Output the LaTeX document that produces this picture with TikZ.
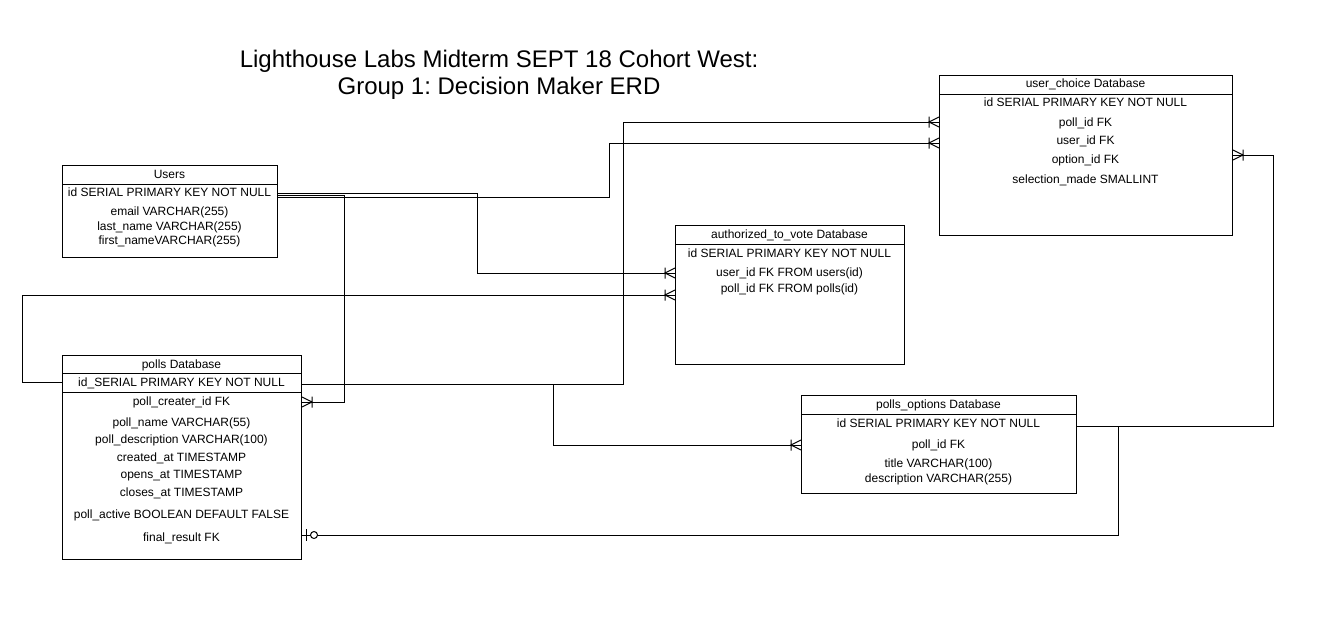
\documentclass[tikz,border=0pt]{standalone}
\usepackage{fontspec}
\setmainfont{Liberation Sans}
\frenchspacing
\usetikzlibrary{calc}
\tikzset{
  crowfoot/.pic={\draw[line width=1pt] (0,-5) -- (10,0) -- (0,5) (10,-5.5) -- (10,5.5);},
  zeroone/.pic={\draw[line width=1pt] (4,-6) -- (4,6); \draw[line width=1pt, fill=white] (12,0) circle (3.5);}
}
\begin{document}
\begin{tikzpicture}[x=1pt,y=-1pt,
  tbl/.style={draw=black, line width=1pt, inner sep=0pt, anchor=north west, fill=white},
  row/.style={inner sep=0pt, font=\fontsize{12}{14}\selectfont, text=black},
  conn/.style={draw=black, line width=1pt},
  sep/.style={draw=black, line width=1pt}]
\useasboundingbox[fill=white] (0,0) rectangle (1341,626);

% title
\node[font=\fontsize{24}{27}\selectfont\frenchspacing, align=center, inner sep=0pt] (title) at (499,75)
  {Lighthouse Labs Midterm SEPT 18 Cohort West:\\Group 1: Decision Maker ERD};

% tables
\node[tbl, minimum width=215pt, minimum height=92pt] (users) at (62,165) {};
\node[tbl, minimum width=239pt, minimum height=204pt] (polls) at (62,355) {};
\node[tbl, minimum width=229pt, minimum height=139pt] (atv) at (675,225) {};
\node[tbl, minimum width=293pt, minimum height=160pt] (uc) at (939,75) {};
\node[tbl, minimum width=275pt, minimum height=98pt] (po) at (801,395) {};

% separators
\draw[sep] ($(users.north west)+(0,19)$) -- ($(users.north east)+(0,19)$);
\draw[sep] ($(polls.north west)+(0,18)$) -- ($(polls.north east)+(0,18)$);
\draw[sep] ($(polls.north west)+(0,37)$) -- ($(polls.north east)+(0,37)$);
\draw[sep] ($(atv.north west)+(0,19)$) -- ($(atv.north east)+(0,19)$);
\draw[sep] ($(uc.north west)+(0,19)$) -- ($(uc.north east)+(0,19)$);
\draw[sep] ($(po.north west)+(0,19)$) -- ($(po.north east)+(0,19)$);

% Users rows
\node[row] (users-t) at (169.5,174) {Users};
\node[row] (users-id) at (169.5,192) {id SERIAL PRIMARY KEY NOT NULL};
\node[row] (users-em) at (169.5,212) {email VARCHAR(255)};
\node[row] (users-ln) at (169.5,227) {last\_name VARCHAR(255)};
\node[row] (users-fn) at (169.5,241) {first\_nameVARCHAR(255)};

% polls rows
\node[row] (polls-t) at (181.5,365) {polls Database};
\node[row] (polls-id) at (181.5,383) {id\_SERIAL PRIMARY KEY NOT NULL};
\node[row] (polls-pc) at (181.5,402) {poll\_creater\_id FK};
\node[row] (polls-pn) at (181.5,423) {poll\_name VARCHAR(55)};
\node[row] (polls-pd) at (181.5,440) {poll\_description VARCHAR(100)};
\node[row] (polls-ca) at (181.5,458) {created\_at TIMESTAMP};
\node[row] (polls-oa) at (181.5,476) {opens\_at TIMESTAMP};
\node[row] (polls-cl) at (181.5,493) {closes\_at TIMESTAMP};
\node[row] (polls-pa) at (181.5,515) {poll\_active BOOLEAN DEFAULT FALSE};
\node[row] (polls-fr) at (181.5,538) {final\_result FK};

% authorized_to_vote rows
\node[row] (atv-t) at (789.5,235) {authorized\_to\_vote Database};
\node[row] (atv-id) at (789.5,253) {id SERIAL PRIMARY KEY NOT NULL};
\node[row] (atv-u) at (789.5,273) {user\_id FK FROM users(id)};
\node[row] (atv-p) at (789.5,289) {poll\_id FK FROM polls(id)};

% user_choice rows
\node[row] (uc-t) at (1085.5,84) {user\_choice Database};
\node[row] (uc-id) at (1085.5,102) {id SERIAL PRIMARY KEY NOT NULL};
\node[row] (uc-p) at (1085.5,123) {poll\_id FK};
\node[row] (uc-u) at (1085.5,141) {user\_id FK};
\node[row] (uc-o) at (1085.5,160) {option\_id FK};
\node[row] (uc-s) at (1085.5,180) {selection\_made SMALLINT};

% polls_options rows
\node[row] (po-t) at (938.5,405) {polls\_options Database};
\node[row] (po-id) at (938.5,423) {id SERIAL PRIMARY KEY NOT NULL};
\node[row] (po-p) at (938.5,445) {poll\_id FK};
\node[row] (po-ti) at (938.5,464) {title VARCHAR(100)};
\node[row] (po-de) at (938.5,479) {description VARCHAR(255)};

% connection points
\coordinate (u1) at ($(users.north east)+(0,28)$);
\coordinate (u2) at ($(users.north east)+(0,30)$);
\coordinate (u3) at ($(users.north east)+(0,32)$);
\coordinate (atv1) at ($(atv.north west)+(0,48)$);
\coordinate (atv2) at ($(atv.north west)+(0,70)$);
\coordinate (uc1) at ($(uc.north west)+(0,47)$);
\coordinate (uc2) at ($(uc.north west)+(0,68)$);
\coordinate (uc3) at ($(uc.north east)+(0,80)$);
\coordinate (pid) at ($(polls.north east)+(0,29)$);
\coordinate (pcr) at ($(polls.north east)+(0,47)$);
\coordinate (pfr) at ($(polls.north east)+(0,180)$);
\coordinate (pl) at ($(polls.north west)+(0,27)$);
\coordinate (po1) at ($(po.north west)+(0,50)$);
\coordinate (poe) at ($(po.north east)+(0,31)$);

% connectors
\draw[conn] (u1) -- ++(199,0) |- (atv1);
\draw[conn] (u2) -- ++(66,0) |- (pcr);
\draw[conn] (u3) -- ++(331,0) |- (uc2);
\draw[conn] (pid) -- ++(321,0) |- (uc1);
\draw[conn] (pid) -- ++(251,0) |- (po1);
\draw[conn] (pl) -- ++(-40,0) |- (atv2);
\draw[conn] (poe) -- ++(196,0) |- (uc3);
\draw[conn] (poe) -- ++(41,0) |- (pfr);

% end marks
\pic[xscale=-1] at (atv1) {crowfoot};
\pic[xscale=-1] at (atv2) {crowfoot};
\pic[xscale=-1] at (uc1) {crowfoot};
\pic[xscale=-1] at (uc2) {crowfoot};
\pic[xscale=-1] at (po1) {crowfoot};
\pic at (pcr) {crowfoot};
\pic at (uc3) {crowfoot};
\pic at (pfr) {zeroone};
\end{tikzpicture}
\end{document}
